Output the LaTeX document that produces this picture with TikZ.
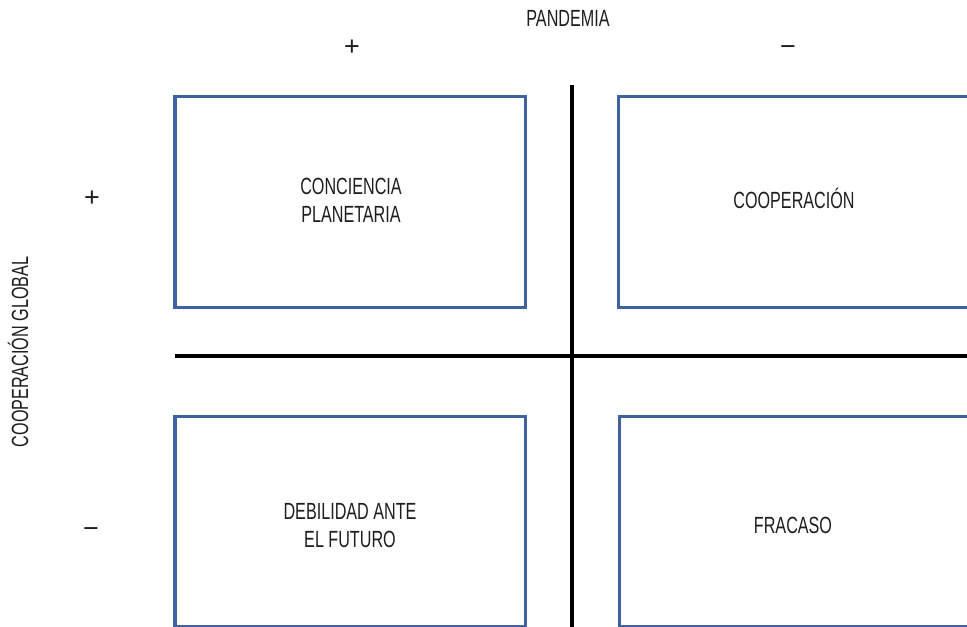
\documentclass[tikz,border=0pt]{standalone}
\usepackage{fontspec}
\setmainfont[FakeStretch=0.69]{Liberation Sans}
\newfontfamily\signfont{Liberation Sans}
\definecolor{boxblue}{RGB}{64,98,158}
\definecolor{inkgray}{RGB}{30,30,30}

\begin{document}
\begin{tikzpicture}[x=1bp, y=-1bp,
    quadrant/.style={draw=boxblue, line width=3bp, minimum width=350bp,
      minimum height=210bp, inner sep=0pt, outer sep=0pt},
    qtext/.style={font=\fontsize{23.5}{28}\selectfont, text=inkgray,
      align=center, inner sep=0pt},
    sign/.style={font=\signfont\fontsize{27}{27}\selectfont, text=inkgray,
      inner sep=0pt, anchor=base},
    axis/.style={line width=3.5bp, black}]

    % Canvas
    \useasboundingbox (0,0) rectangle (967,627);
    \fill[white] (0,0) rectangle (967,627);
    \clip (0,0) rectangle (967,627);

    % Define coordinates
    \coordinate (vtop) at (572,85);
    \coordinate (vbot) at (572,640);
    \coordinate (hleft) at (175,356);
    \coordinate (hright) at (980,356);

    % Quadrants
    \node[quadrant] (conciencia) at (350,202) {};
    \node[quadrant] (cooperacion) at (793,202) {};
    \node[quadrant] (debilidad) at (350,521) {};
    \node[quadrant] (fracaso) at (794,521) {};

    % Axes
    \draw[axis] (vtop) -- (vbot);
    \draw[axis] (hleft) -- (hright);

    % Quadrant labels
    \node[qtext] (t-conciencia) at (351,200.4) {CONCIENCIA\\PLANETARIA};
    \node[qtext, anchor=base] (t-cooperacion) at (794,209) {COOPERACIÓN};
    \node[qtext] (t-debilidad) at (350,525.4) {DEBILIDAD ANTE\\EL FUTURO};
    \node[qtext, anchor=base] (t-fracaso) at (793,533) {FRACASO};

    % Axis titles
    \node[qtext, anchor=base] (pandemia) at (568,27) {PANDEMIA};
    \node[qtext, anchor=base, rotate=90] (coopglobal) at (28,352) {COOPERACIÓN GLOBAL};

    % Signs
    \node[sign] (pplus) at (352,55.5) {+};
    \node[sign] (pminus) at (788,55.5) {−};
    \node[sign] (cplus) at (92,206.5) {+};
    \node[sign] (cminus) at (91,537.5) {−};
  \end{tikzpicture}
\end{document}
